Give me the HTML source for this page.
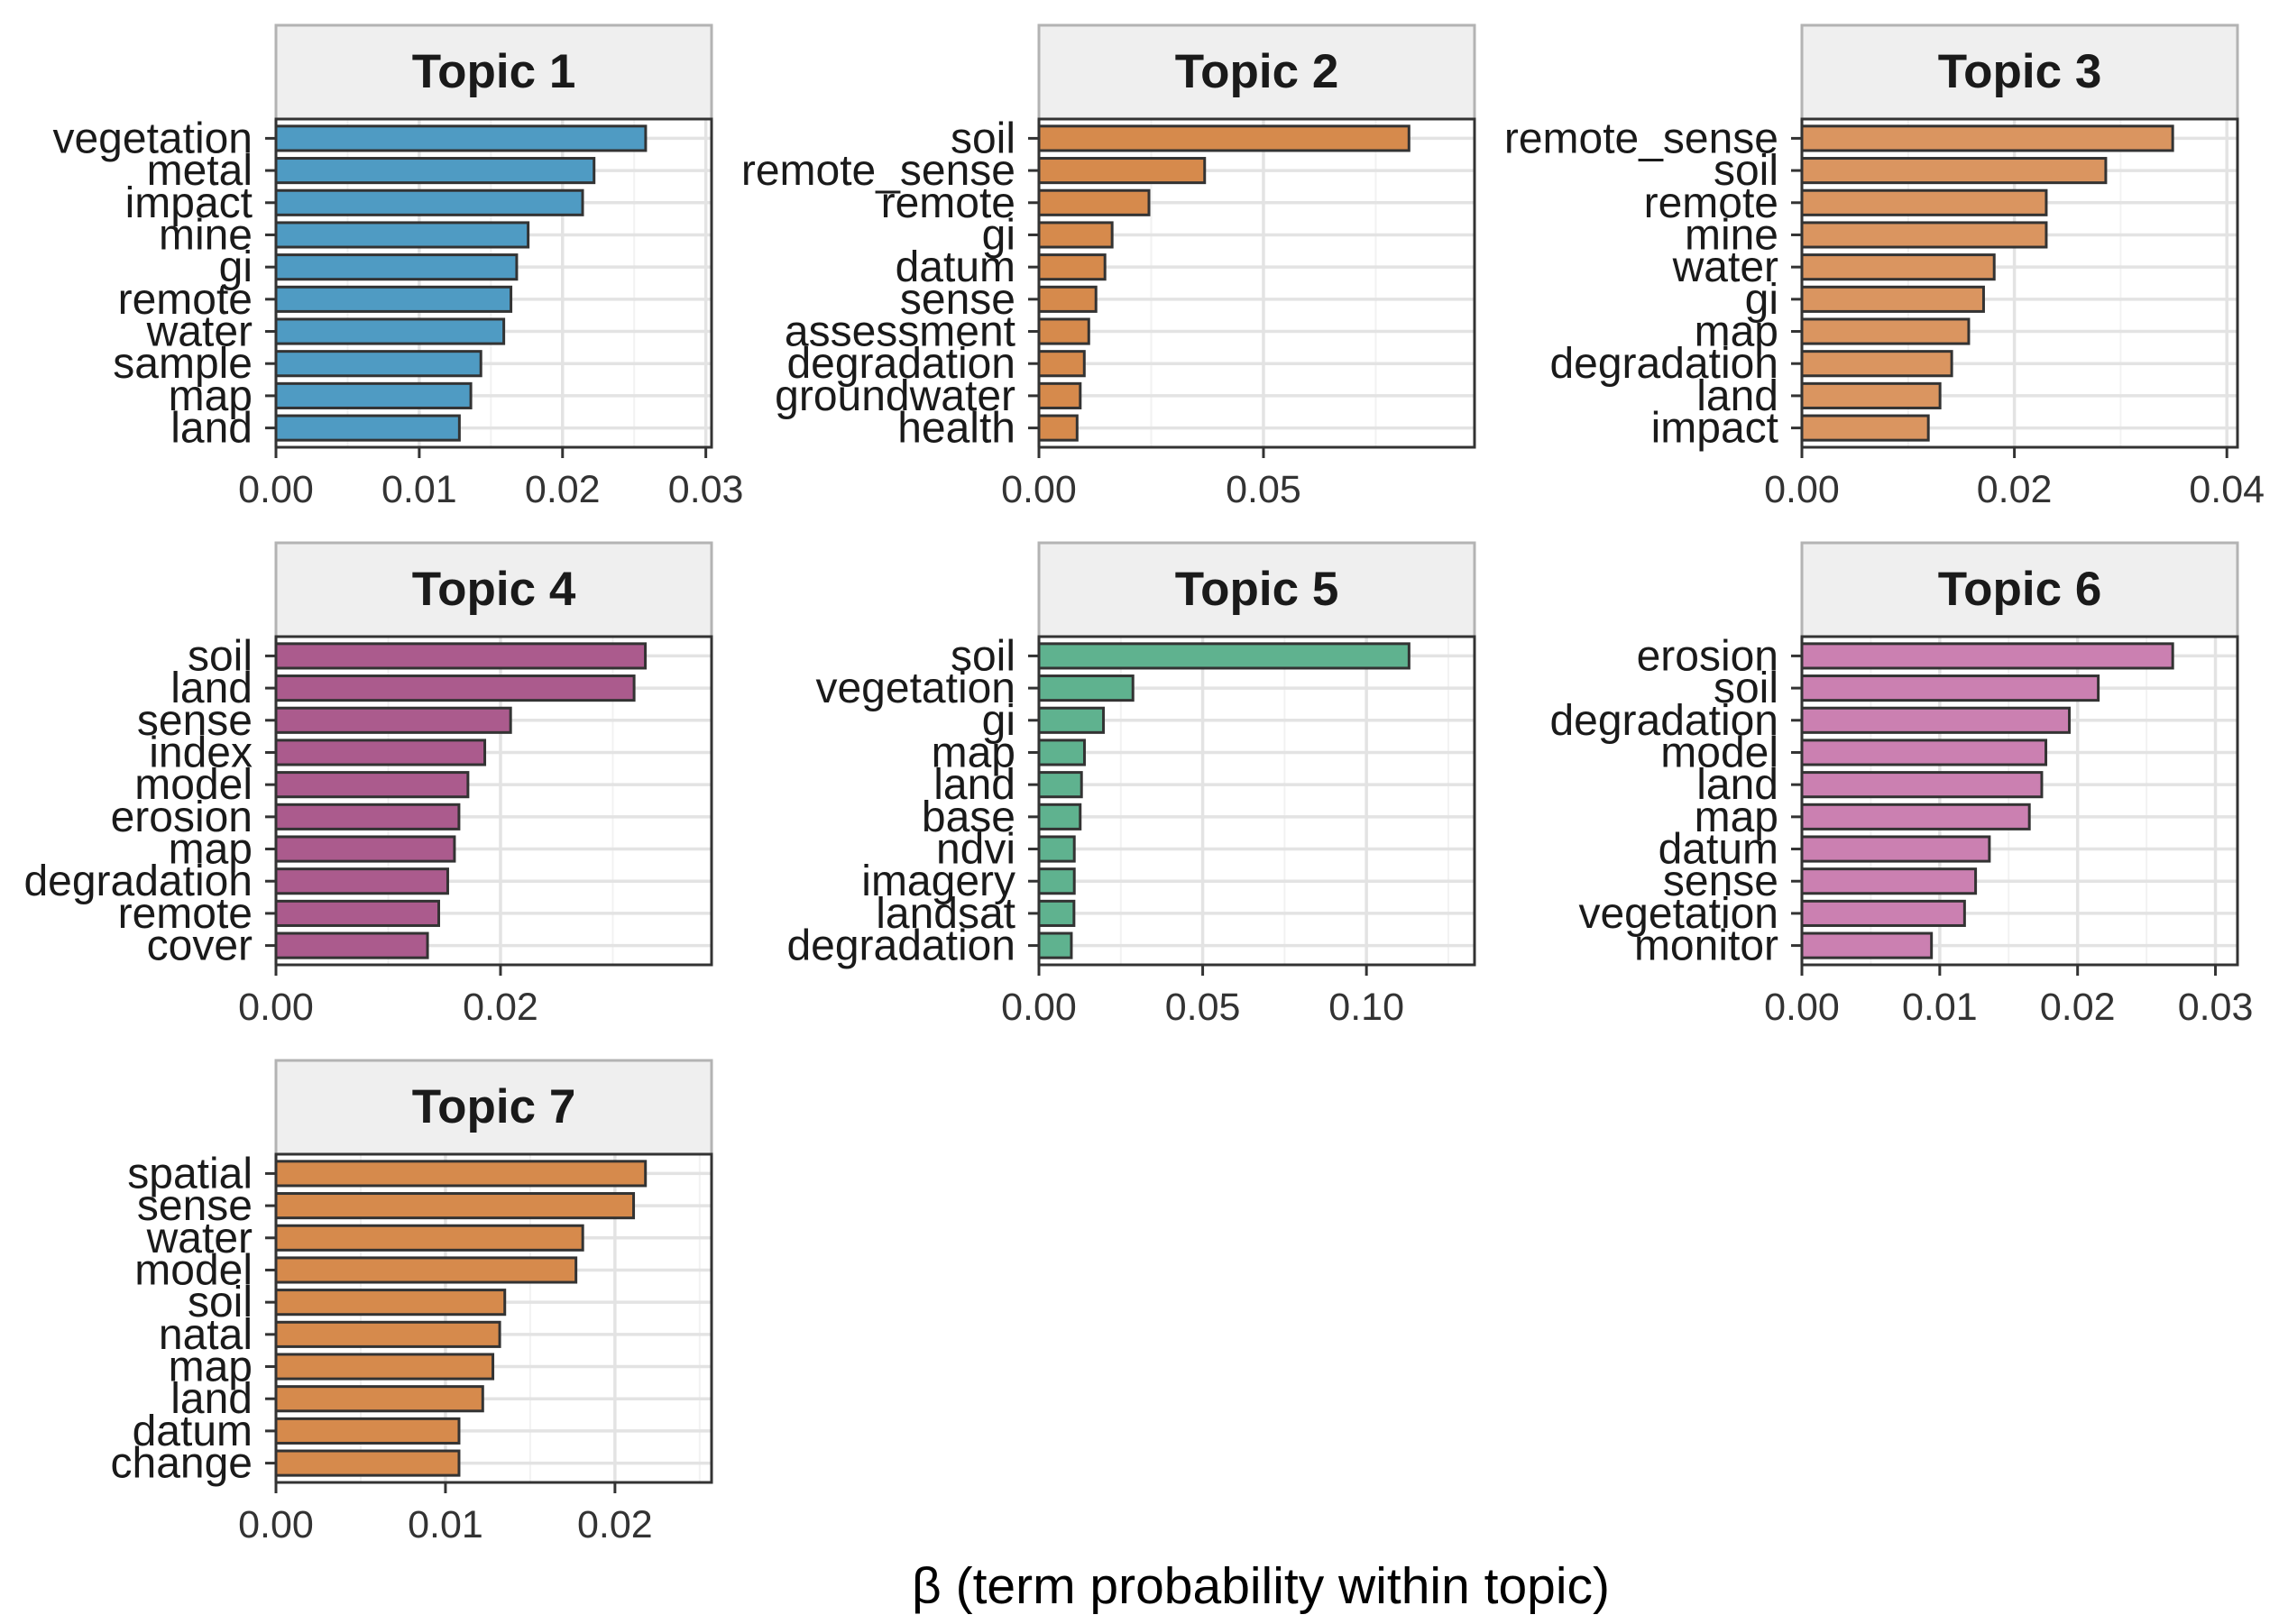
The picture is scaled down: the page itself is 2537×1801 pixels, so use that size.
<!DOCTYPE html>
<html><head><meta charset="utf-8"><style>
html,body{margin:0;padding:0;background:#fff;}
svg{display:block;font-family:"Liberation Sans",Arial,sans-serif;}
</style></head><body>
<svg id="chart" width="2537" height="1801" viewBox="0 0 2537 1801" xmlns="http://www.w3.org/2000/svg"></svg>
<script>
const topicTitles = ["Topic 1","Topic 2","Topic 3","Topic 4","Topic 5","Topic 6","Topic 7"];
const terms1 = ["vegetation","metal","impact","mine","gi","remote","water","sample","map","land"];
const values1 = [0.0258,0.0222,0.0214,0.0176,0.0168,0.0164,0.0159,0.0143,0.0136,0.0128];
const terms2 = ["soil","remote_sense","remote","gi","datum","sense","assessment","degradation","groundwater","health"];
const values2 = [0.0824,0.0369,0.0245,0.0163,0.0147,0.0127,0.0111,0.0101,0.0092,0.0085];
const terms3 = ["remote_sense","soil","remote","mine","water","gi","map","degradation","land","impact"];
const values3 = [0.0349,0.0286,0.0230,0.0230,0.0181,0.0171,0.0157,0.0141,0.0130,0.0119];
const terms4 = ["soil","land","sense","index","model","erosion","map","degradation","remote","cover"];
const values4 = [0.0329,0.0319,0.0209,0.0186,0.0171,0.0163,0.0159,0.0153,0.0145,0.0135];
const terms5 = ["soil","vegetation","gi","map","land","base","ndvi","imagery","landsat","degradation"];
const values5 = [0.113,0.0287,0.0197,0.0139,0.0130,0.0126,0.0108,0.0108,0.0107,0.0099];
const terms6 = ["erosion","soil","degradation","model","land","map","datum","sense","vegetation","monitor"];
const values6 = [0.0269,0.0215,0.0194,0.0177,0.0174,0.0165,0.0136,0.0126,0.0118,0.0094];
const terms7 = ["spatial","sense","water","model","soil","natal","map","land","datum","change"];
const values7 = [0.0218,0.0211,0.0181,0.0177,0.0135,0.0132,0.0128,0.0122,0.0108,0.0108];
const xMax = [0.0304,0.097,0.041,0.0388,0.133,0.0316,0.0257];
const tickLabels1 = ["0.00","0.01","0.02","0.03"];
const tickLabels2 = ["0.00","0.05"];
const tickLabels3 = ["0.00","0.02","0.04"];
const tickLabels4 = ["0.00","0.02"];
const tickLabels5 = ["0.00","0.05","0.10"];
const tickLabels6 = ["0.00","0.01","0.02","0.03"];
const tickLabels7 = ["0.00","0.01","0.02"];
const colors = ["#4f9bc3","#d68a4c","#da9560","#ab5b8d","#5fb28f","#cb80b1","#d68a4c"];

const termsAll=[terms1,terms2,terms3,terms4,terms5,terms6,terms7];
const valsAll=[values1,values2,values3,values4,values5,values6,values7];
const ticksAll=[tickLabels1,tickLabels2,tickLabels3,tickLabels4,tickLabels5,tickLabels6,tickLabels7];
const svg=document.getElementById('chart');
const NS="http://www.w3.org/2000/svg";
function mk(tag,attrs,parent){const e=document.createElementNS(NS,tag);for(const k in attrs)e.setAttribute(k,attrs[k]);(parent||svg).appendChild(e);return e;}
const colX=[306,1152,1998], PW=483;
const rowY=[28,602,1176], SH=104, PH=364;
for(let p=0;p<7;p++){
  const x0=colX[p%3], sy=rowY[Math.floor(p/3)], py=sy+SH;
  const g=mk('g',{});
  
  
  const xs=v=>x0+v/xMax[p]*PW;
  const n=termsAll[p].length, step=PH/(n-1+1.2);
  const ys=i=>py+step*0.6+i*step;
  const strip=mk('rect',{x:x0,y:sy,width:PW,height:SH,fill:'#efefef',stroke:'#b3b3b3','stroke-width':3},g);
  
  
  const st=mk('text',{x:x0+PW/2,y:sy+69,'text-anchor':'middle','font-size':53,'font-weight':'bold',fill:'#1a1a1a'},g);
  st.textContent=topicTitles[p];
  
  
  mk('rect',{x:x0,y:py,width:PW,height:PH,fill:'#fff'},g);
  const ticks=ticksAll[p];
  const tstep=parseFloat(ticks[1]);
  for(let v=tstep/2;v<xMax[p];v+=tstep){ if(xs(v)<x0+PW-1) mk('line',{x1:xs(v),x2:xs(v),y1:py,y2:py+PH,stroke:'#f2f2f2','stroke-width':2},g);}
  ticks.forEach(t=>{const X=xs(parseFloat(t));mk('line',{x1:X,x2:X,y1:py,y2:py+PH,stroke:'#e3e3e3','stroke-width':3.5},g);});
  termsAll[p].forEach((t,i)=>mk('line',{x1:x0,x2:x0+PW,y1:ys(i),y2:ys(i),stroke:'#e3e3e3','stroke-width':3.5},g));
  const bh=step*0.76;
  valsAll[p].forEach((v,i)=>{
    const r=mk('rect',{x:x0,y:ys(i)-bh/2,width:xs(v)-x0,height:bh,fill:colors[p],stroke:'#333','stroke-width':3},g);
    
    
  });
  mk('rect',{x:x0,y:py,width:PW,height:PH,fill:'none',stroke:'#333','stroke-width':3},g);
  termsAll[p].forEach((t,i)=>{
    mk('line',{x1:x0-12,x2:x0,y1:ys(i),y2:ys(i),stroke:'#333','stroke-width':3},g);
    const tx=mk('text',{x:x0-26,y:ys(i)+16,'text-anchor':'end','font-size':48,fill:'#1a1a1a'},g);
    tx.textContent=t;
    
    
  });
  ticks.forEach(t=>{
    const X=xs(parseFloat(t));
    mk('line',{x1:X,x2:X,y1:py+PH,y2:py+PH+12,stroke:'#333','stroke-width':3},g);
    const tx=mk('text',{x:X,y:py+PH+61,'text-anchor':'middle','font-size':43,fill:'#333'},g);
    tx.textContent=t;
    
    
  });
}
const at=mk('text',{x:1398,y:1778,'text-anchor':'middle','font-size':57,fill:'#000'});
at.textContent='β (term probability within topic)';


</script>
</body></html>
